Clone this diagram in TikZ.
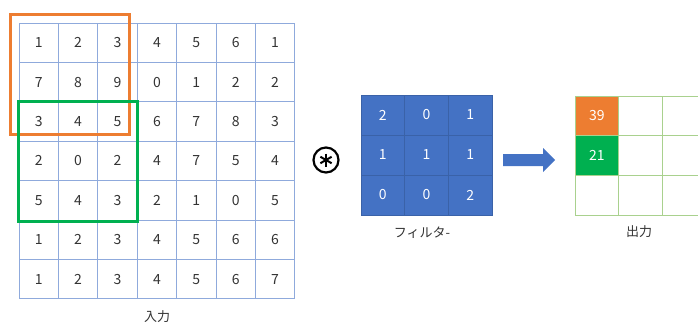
\documentclass[tikz,border=0pt]{standalone}
\usepackage{fontspec}
\setmainfont{Noto Sans CJK JP}
\usetikzlibrary{calc}
\definecolor{gridblue}{HTML}{8FAADC}
\definecolor{accblue}{HTML}{4472C4}
\definecolor{filtborder}{HTML}{3A62A8}
\definecolor{korange}{HTML}{ED7D31}
\definecolor{kgreen}{HTML}{00B050}
\definecolor{outgrid}{HTML}{A9D18E}
\definecolor{txt}{HTML}{333333}
\tikzset{
  incell/.style={draw=gridblue, line width=0.8pt, minimum width=39.4pt, minimum height=39.4pt, inner sep=0pt, text=txt, font=\fontsize{14}{16}\selectfont},
  fcell/.style={draw=filtborder, fill=accblue, line width=0.8pt, minimum width=43.7pt, minimum height=40pt, inner sep=0pt, text=white, font=\fontsize{14}{16}\selectfont},
  ocell/.style={draw=outgrid, line width=0.8pt, minimum width=43.7pt, minimum height=39.7pt, inner sep=0pt, text=white, font=\fontsize{14}{16}\selectfont},
  winbox/.style={line width=3pt, minimum width=119pt, minimum height=120pt, inner sep=0pt},
  lbl/.style={text=txt, font=\fontsize{13}{15}\selectfont, inner sep=0pt}
}
\begin{document}
\begin{tikzpicture}[x=1pt,y=-1pt]
\useasboundingbox (0,0) rectangle (698,324);
\clip (0,0) rectangle (698,324);
% input grid
\foreach \row [count=\i] in {{1,2,3,4,5,6,1},{7,8,9,0,1,2,2},{3,4,5,6,7,8,3},{2,0,2,4,7,5,4},{5,4,3,2,1,0,5},{1,2,3,4,5,6,6},{1,2,3,4,5,6,7}}{
  \foreach \v [count=\j] in \row {
    \node[incell] (in-\i-\j) at ({19+39.4*(\j-0.5)},{23+39.4*(\i-0.5)}) {\v};
  }
}
% windows
\node[winbox, draw=korange] (win1) at (69.5,74) {};
\node[winbox, draw=kgreen] (win2) at (77.5,161.5) {};
\node[lbl] (inlbl) at (157,317) {入力};
% convolution symbol
\node[draw=black, circle, line width=2.2pt, minimum size=25pt, inner sep=0pt] (conv) at (326,160) {};
\foreach \a in {90,30,150}{
  \draw[line width=2pt] ($(conv.center)+(\a:6.5pt)$) -- ($(conv.center)+(\a+180:6.5pt)$);
}
% filter
\foreach \row [count=\i] in {{2,0,1},{1,1,1},{0,0,2}}{
  \foreach \v [count=\j] in \row {
    \node[fcell] (f-\i-\j) at ({361+43.7*(\j-0.5)},{95+40*(\i-0.5)}) {\v};
  }
}
\node[lbl] (flbl) at (422,233) {フィルタ-};
% arrow
\fill[accblue] (503,154) -- (543,154) -- (543,148) -- (555,160) -- (543,172) -- (543,166) -- (503,166) -- cycle;
% output grid
\foreach \i in {1,2,3}{
  \foreach \j in {1,2,3}{
    \node[ocell] (o-\i-\j) at ({575+43.7*(\j-0.5)},{96+39.7*(\i-0.5)}) {};
  }
}
\node[ocell, fill=korange] (o39) at (o-1-1) {39};
\node[ocell, fill=kgreen] (o21) at (o-2-1) {21};
\node[lbl] (olbl) at (639,232) {出力};
\end{tikzpicture}
\end{document}
